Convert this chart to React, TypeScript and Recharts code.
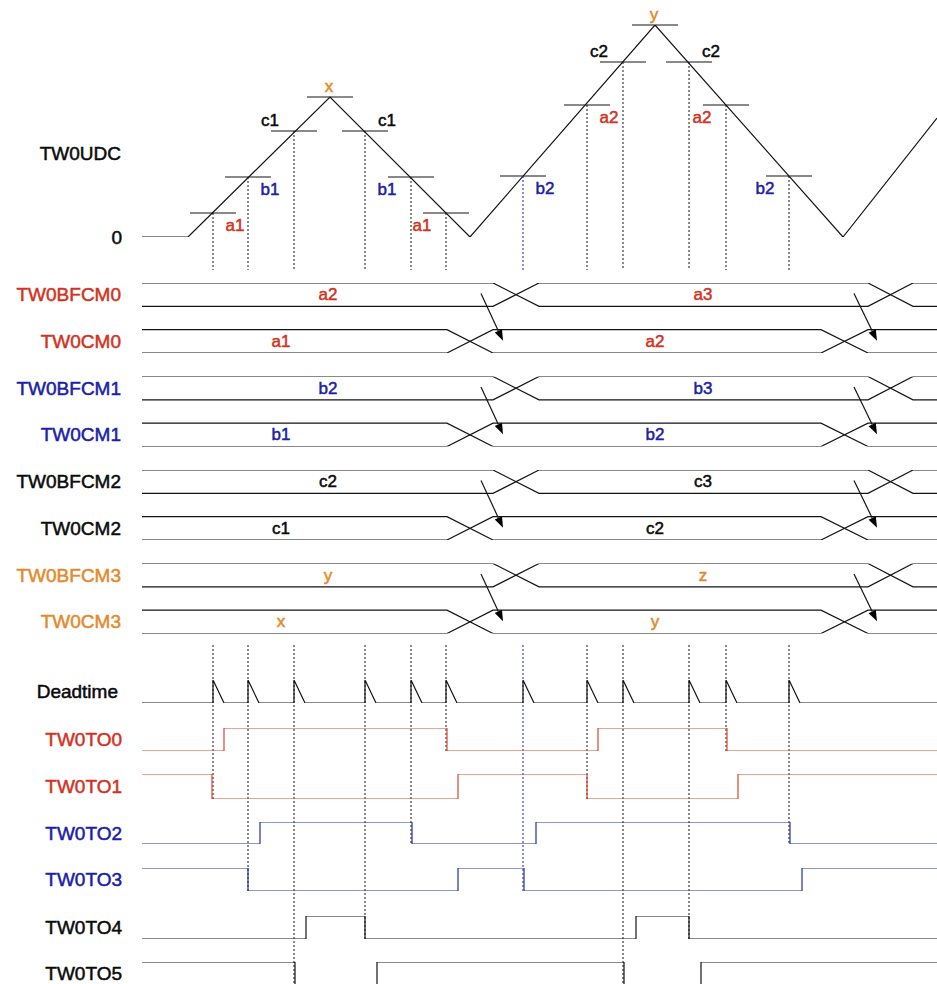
import React from 'react';
import { ComposedChart, Line, XAxis, YAxis, ReferenceLine, ReferenceDot } from 'recharts';

const W = 937;
const H = 984;
const FONT = '"Liberation Sans", Arial, sans-serif';

const BLACK = '#0a0a0a';
const LINE = '#141414';
const RED = '#d2321f';
const RED_LINE = '#d8482f';
const BLUE = '#1a20a8';
const BLUE_LINE = '#2230b0';
const ORANGE = '#e4892c';

// time range of all traces
const T_START = 142;
const T_END = 937;

// up/down counter TW0UDC
const udcTimes = [142, 188, 330, 470, 655, 843, 937];
const udcCounts = [0, 0, 140, 0, 212, 0, 119];
const peakTimes = [330, 655];
const peakNames = ['x', 'y'];

// compare matches on the counter
const matchTimes = [213, 248, 294, 365, 411, 446, 523, 587, 623, 689, 726, 789];
const matchRegs = ['a1', 'b1', 'c1', 'c1', 'b1', 'a1', 'b2', 'a2', 'c2', 'c2', 'a2', 'b2'];
const matchSlope = ['up', 'up', 'up', 'down', 'down', 'down', 'up', 'up', 'up', 'down', 'down', 'down'];
const matchOutput = [1, 3, 5, 4, 2, 0, 3, 1, 5, 4, 0, 2];
const regLevels: Record<string, number> = { a1: 24, b1: 60, c1: 106, a2: 132, b2: 61, c2: 175 };

// buffer / compare registers
const bufferNames = ['TW0BFCM0', 'TW0BFCM1', 'TW0BFCM2', 'TW0BFCM3'];
const compareNames = ['TW0CM0', 'TW0CM1', 'TW0CM2', 'TW0CM3'];
const bufferVals = [['a2', 'a3'], ['b2', 'b3'], ['c2', 'c3'], ['y', 'z']];
const compareVals = [['a1', 'a2'], ['b1', 'b2'], ['c1', 'c2'], ['x', 'y']];
const bufferValTimes = [328, 703];
const compareValTimes = [281, 655];
const compareSwaps = [[447, 493], [821, 868]];
const bufferSwaps = [[493, 539], [868, 913]];
const transferArrows = [[481, 503], [854, 877]];

// outputs
const deadtimeLen = 11;
const outNames = ['TW0TO0', 'TW0TO1', 'TW0TO2', 'TW0TO3', 'TW0TO4', 'TW0TO5'];
const to0 = [[142, 0], [224, 1], [447, 0], [598, 1], [727, 0], [937, 0]];
const to1 = [[142, 1], [212, 0], [458, 1], [587, 0], [738, 1], [937, 1]];
const to2 = [[142, 0], [260, 1], [412, 0], [536, 1], [790, 0], [937, 0]];
const to3 = [[142, 1], [248, 0], [458, 1], [524, 0], [802, 1], [937, 1]];
const to4 = [[142, 0], [306, 1], [365, 0], [636, 1], [689, 0], [937, 0]];
const to5 = [[142, 1], [295, 0], [377, 1], [624, 0], [701, 1], [937, 1]];
const outputs = [to0, to1, to2, to3, to4, to5];

// layout
const UDC_ZERO_PX = 237;
const UDC_PEAK_PX = 25;
const PAIR_TOP = [283, 376.5, 470, 563.5];
const PAIR_H = 70;
const DT_ROW = [680, 703];
const OUT_ROWS = [[728, 751], [774, 799], [822, 844], [868, 891], [916, 939], [962, 985]];
const GUIDE_TOP_END = 270;
const GUIDE_LOW_START = 645;
const NAME_X = 121;
const TICK_HALF = 23;
const SW = 1.2;

const pairColors = [RED, BLUE, BLACK, ORANGE];
const outNameColors = [RED, RED, BLUE, BLUE, BLACK, BLACK];
const outLineColors = [RED_LINE, RED_LINE, BLUE_LINE, BLUE_LINE, LINE, LINE];

const regColor = (r: string) => (r[0] === 'a' ? RED : r[0] === 'b' ? BLUE : r[0] === 'c' ? BLACK : ORANGE);

const udcMax = Math.max(...udcCounts);
const udcData = udcTimes.map((t, i) => ({ t, v: udcCounts[i] }));
const countsPerPx = udcMax / (UDC_ZERO_PX - UDC_PEAK_PX);

function busLine(swaps: number[][], startHigh: boolean, base: number) {
  let cur = startHigh;
  const pts = [{ t: T_START, v: base + (cur ? 1 : 0) }];
  for (const [a, b] of swaps) {
    pts.push({ t: a, v: base + (cur ? 1 : 0) });
    cur = !cur;
    pts.push({ t: b, v: base + (cur ? 1 : 0) });
  }
  pts.push({ t: T_END, v: base + (cur ? 1 : 0) });
  return pts;
}

const deadtimeData: { t: number; v: number }[] = [{ t: T_START, v: 0 }];
matchTimes.forEach((t) => {
  deadtimeData.push({ t, v: 0 }, { t, v: 1 }, { t: t + deadtimeLen, v: 0 });
});
deadtimeData.push({ t: T_END, v: 0 });

type TextOpts = { dx?: number; dy?: number; anchor?: 'start' | 'middle' | 'end'; size?: number };
const textAt = (value: string, fill: string, o: TextOpts = {}) => (p: any) => {
  const vb = p.viewBox || { x: 0, y: 0 };
  return (
    <text
      x={vb.x + (o.dx ?? 0)}
      y={vb.y + (o.dy ?? 0)}
      textAnchor={o.anchor ?? 'middle'}
      dominantBaseline="central"
      fill={fill}
      stroke={fill}
      strokeWidth={0.5}
      fontSize={o.size ?? 17}
      fontFamily={FONT}
    >
      {value}
    </text>
  );
};

const arrowShape = (p: any) => {
  const { x1, y1, x2, y2 } = p;
  const ang = Math.atan2(y2 - y1, x2 - x1);
  const len = 11;
  const half = 4;
  const bx = x2 - len * Math.cos(ang);
  const by = y2 - len * Math.sin(ang);
  const px = -Math.sin(ang) * half;
  const py = Math.cos(ang) * half;
  return (
    <g>
      <line x1={x1} y1={y1} x2={bx} y2={by} stroke={LINE} strokeWidth={SW} />
      <polygon points={`${x2},${y2} ${bx + px},${by + py} ${bx - px},${by - py}`} fill="#000" />
    </g>
  );
};

const lineProps = {
  dataKey: 'v',
  dot: false,
  activeDot: false,
  isAnimationActive: false,
  strokeWidth: SW,
} as const;

export default function App() {
  return (
    <div style={{ position: 'absolute', left: 0, top: 0, width: W, height: H, overflow: 'hidden', background: '#fff' }}>
      <ComposedChart width={W} height={H} margin={{ top: 0, right: 0, bottom: 0, left: 0 }}>
        <XAxis type="number" dataKey="t" domain={[0, W]} hide allowDataOverflow />
        <YAxis yAxisId="page" type="number" domain={[0, H]} reversed hide allowDataOverflow />
        <YAxis
          yAxisId="udc"
          type="number"
          domain={[0, udcMax]}
          hide
          allowDataOverflow
          padding={{ top: UDC_PEAK_PX, bottom: H - UDC_ZERO_PX }}
        />
        {PAIR_TOP.map((top, k) => (
          <YAxis
            key={`pair${k}`}
            yAxisId={`pair${k}`}
            type="number"
            domain={[0, 3]}
            hide
            allowDataOverflow
            padding={{ top, bottom: H - (top + PAIR_H) }}
          />
        ))}
        <YAxis
          yAxisId="dt"
          type="number"
          domain={[0, 1]}
          hide
          allowDataOverflow
          padding={{ top: DT_ROW[0], bottom: H - DT_ROW[1] }}
        />
        {OUT_ROWS.map(([hi, lo], i) => (
          <YAxis
            key={`out${i}`}
            yAxisId={`out${i}`}
            type="number"
            domain={[0, 1]}
            hide
            allowDataOverflow
            padding={{ top: hi, bottom: H - lo }}
          />
        ))}

        {/* counter */}
        <Line yAxisId="udc" data={udcData} type="linear" stroke={LINE} {...lineProps} />
        <ReferenceDot yAxisId="page" x={NAME_X} y={153} r={0} ifOverflow="visible" label={textAt('TW0UDC', BLACK, { anchor: 'end', size: 19 })} />
        <ReferenceDot yAxisId="udc" x={NAME_X + 1} y={0} r={0} ifOverflow="visible" label={textAt('0', BLACK, { anchor: 'end', size: 19 })} />

        {matchTimes.map((t, i) => {
          const reg = matchRegs[i];
          const v = regLevels[reg];
          const above = reg[0] === 'c';
          const right = (matchSlope[i] === 'up') !== above;
          const guideColor = reg === 'b2' && matchSlope[i] === 'up' ? BLUE : LINE;
          return (
            <React.Fragment key={`m${i}`}>
              <ReferenceLine
                yAxisId="udc"
                ifOverflow="visible"
                segment={[{ x: t - TICK_HALF, y: v }, { x: t + TICK_HALF, y: v }]}
                stroke={LINE}
                strokeWidth={SW}
              />
              <ReferenceLine
                yAxisId="udc"
                ifOverflow="visible"
                segment={[{ x: t, y: v }, { x: t, y: -(GUIDE_TOP_END - UDC_ZERO_PX) * countsPerPx }]}
                stroke={guideColor}
                strokeDasharray="2 2"
                strokeWidth={1}
              />
              <ReferenceLine
                yAxisId="page"
                ifOverflow="visible"
                segment={[{ x: t, y: GUIDE_LOW_START }, { x: t, y: OUT_ROWS[matchOutput[i]][1] }]}
                stroke={guideColor}
                strokeDasharray="2 2"
                strokeWidth={1}
              />
              <ReferenceDot
                yAxisId="udc"
                x={t}
                y={v}
                r={0}
                ifOverflow="visible"
                label={textAt(reg, regColor(reg), { dx: right ? 22 : -24, dy: above ? -11 : 12 })}
              />
            </React.Fragment>
          );
        })}

        {peakTimes.map((t, i) => {
          const v = udcCounts[udcTimes.indexOf(t)];
          return (
            <React.Fragment key={`p${i}`}>
              <ReferenceLine
                yAxisId="udc"
                ifOverflow="visible"
                segment={[{ x: t - TICK_HALF, y: v }, { x: t + TICK_HALF, y: v }]}
                stroke={LINE}
                strokeWidth={SW}
              />
              <ReferenceDot
                yAxisId="udc"
                x={t}
                y={v}
                r={0}
                ifOverflow="visible"
                label={textAt(peakNames[i], ORANGE, { dx: -1, dy: -11 })}
              />
            </React.Fragment>
          );
        })}

        {/* register pairs */}
        {PAIR_TOP.map((_, k) => {
          const axis = `pair${k}`;
          const col = pairColors[k];
          return (
            <React.Fragment key={`bus${k}`}>
              <Line yAxisId={axis} data={busLine(bufferSwaps, true, 2)} type="linear" stroke={LINE} {...lineProps} />
              <Line yAxisId={axis} data={busLine(bufferSwaps, false, 2)} type="linear" stroke={LINE} {...lineProps} />
              <Line yAxisId={axis} data={busLine(compareSwaps, true, 0)} type="linear" stroke={LINE} {...lineProps} />
              <Line yAxisId={axis} data={busLine(compareSwaps, false, 0)} type="linear" stroke={LINE} {...lineProps} />
              <ReferenceDot yAxisId={axis} x={NAME_X} y={2.5} r={0} ifOverflow="visible" label={textAt(bufferNames[k], col, { anchor: 'end', size: 19 })} />
              <ReferenceDot yAxisId={axis} x={NAME_X} y={0.5} r={0} ifOverflow="visible" label={textAt(compareNames[k], col, { anchor: 'end', size: 19 })} />
              {bufferValTimes.map((t, j) => (
                <ReferenceDot key={`bv${j}`} yAxisId={axis} x={t} y={2.5} r={0} ifOverflow="visible" label={textAt(bufferVals[k][j], col)} />
              ))}
              {compareValTimes.map((t, j) => (
                <ReferenceDot key={`cv${j}`} yAxisId={axis} x={t} y={0.5} r={0} ifOverflow="visible" label={textAt(compareVals[k][j], col)} />
              ))}
              {transferArrows.map(([a, b], j) => (
                <ReferenceLine
                  key={`ar${j}`}
                  yAxisId={axis}
                  ifOverflow="visible"
                  segment={[{ x: a, y: 2.55 }, { x: b, y: 0.52 }]}
                  shape={arrowShape}
                />
              ))}
            </React.Fragment>
          );
        })}

        {/* deadtime and outputs */}
        <Line yAxisId="dt" data={deadtimeData} type="linear" stroke={LINE} {...lineProps} />
        <ReferenceDot yAxisId="dt" x={NAME_X - 3} y={0.5} r={0} ifOverflow="visible" label={textAt('Deadtime', BLACK, { anchor: 'end', size: 19 })} />
        {outputs.map((sig, i) => (
          <React.Fragment key={`o${i}`}>
            <Line
              yAxisId={`out${i}`}
              data={sig.map(([t, v]) => ({ t, v }))}
              type="stepAfter"
              stroke={outLineColors[i]}
              {...lineProps}
            />
            <ReferenceDot
              yAxisId={`out${i}`}
              x={NAME_X + 1}
              y={0.5}
              r={0}
              ifOverflow="visible"
              label={textAt(outNames[i], outNameColors[i], { anchor: 'end', size: 19 })}
            />
          </React.Fragment>
        ))}
      </ComposedChart>
    </div>
  );
}
